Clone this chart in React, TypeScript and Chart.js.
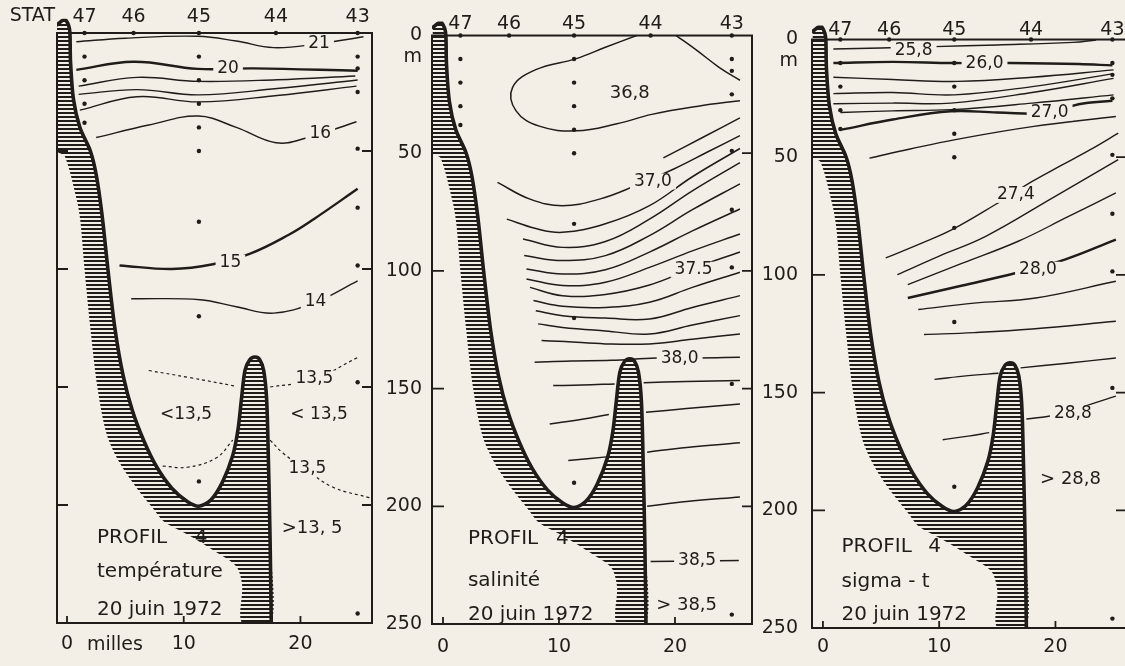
import React, { useEffect, useRef } from 'react';
import { Chart, registerables } from 'chart.js';

Chart.register(...registerables);

type Pt = [number, number];
type Lbl = [string, number, number];
type Note = [string, number, number, number];

const PAPER = '#f3efe6';
const INK = '#1f1c19';
const FONT = '"DejaVu Sans", "Liberation Sans", sans-serif';

// ---------- stations & axes ----------
const stationNames = ['47', '46', '45', '44', '43'];
const stationMiles = [1.5, 5.7, 11.3, 17.9, 24.9];
const stationDepths: number[][] = [
  [0, 10, 20, 30, 38],
  [0],
  [0, 10, 20, 30, 40, 50, 80, 120, 190],
  [0],
  [0, 10, 15, 25, 49, 74, 98.5, 148, 246],
];
const depthTicks = [0, 50, 100, 150, 200, 250];
const distanceTicks = [0, 10, 20];

// ---------- sea bed (miles, m) ----------
const seabedOuter: Pt[] = [
  [-0.3, -5.6], [-0.86, -3.5], [-0.86, 50], [-0.2, 52], [0.85, 71], [1.15, 80], [1.5, 100],
  [2.0, 125], [2.6, 150], [3.4, 170], [4.5, 182], [6.0, 193], [7.3, 201], [8.3, 207],
  [10.5, 213], [12.8, 220], [14.5, 226], [15.0, 234], [15.0, 250],
];
const seabedInner: Pt[] = [
  [17.5, 250], [17.4, 215], [17.25, 180], [17.1, 155], [16.85, 143], [16.5, 138.3], [16.1, 137.3],
  [15.65, 138.5], [15.25, 143], [14.95, 155], [14.65, 168], [14.2, 179], [13.3, 190.5], [12.3, 198],
  [11.3, 200.5], [10.3, 198.5], [9.0, 193], [7.7, 184], [6.6, 173], [5.6, 160], [4.8, 145],
  [4.1, 125], [3.5, 100], [3.0, 77], [2.5, 60], [2.0, 50], [1.1, 40], [0.55, 28], [0.3, 12],
  [0.25, 0], [0.15, -3], [-0.1, -5.4],
];

// ---------- temperature ----------
const t21: Pt[] = [[0.8, 3.7], [5, 2.2], [11.2, 1.4], [14.5, 3.4], [17.7, 6.2], [21.5, 4.6], [25.4, 1.6]];
const t20: Pt[] = [[0.8, 15.6], [5.7, 12.2], [11.2, 15.2], [16, 15], [24.9, 16]];
const t19: Pt[] = [[1, 22.5], [6, 18.8], [11.25, 20.5], [18, 19.8], [24.7, 18.2]];
const t18: Pt[] = [[1, 26], [6, 24], [11.25, 26.2], [18, 23.5], [24.9, 19.9]];
const t17: Pt[] = [[1.1, 32.7], [6, 27], [11.25, 29.2], [18, 26.5], [24.8, 22.5]];
const t16: Pt[] = [[2.5, 44.3], [7, 39], [11.25, 35.2], [14.5, 40], [17.9, 46.5], [20.5, 44.5], [24.8, 37.6]];
const t15: Pt[] = [[4.5, 98.5], [9, 100], [12.5, 98], [15.7, 93.5], [19, 85.5], [21.1, 79], [24.9, 66]];
const t14: Pt[] = [[5.5, 112.6], [11.4, 113], [14.5, 116], [17.7, 118.7], [21.3, 114], [24.9, 105]];
const t135a: Pt[] = [[7, 143], [10.5, 146], [14.3, 149.5]];
const t135b: Pt[] = [[17.4, 150], [21, 147], [24.9, 137.5]];
const t135c: Pt[] = [[8.2, 183.5], [10.3, 184], [12.8, 180], [14.2, 172.5]];
const t135d: Pt[] = [[17.4, 172.5], [18.5, 178], [20.5, 185], [22.8, 192.5], [26, 197]];

// ---------- salinity ----------
const sTop: Pt[] = [[20.1, 0], [21.8, 6], [23.8, 13.5], [25.6, 19]];
const s368: Pt[] = [[16.7, 0], [14, 5], [11.5, 9.8], [8, 14.5], [6, 22], [6.3, 32], [8.3, 38.5], [11.5, 40.5], [15, 37.5], [18, 33.5], [22, 30], [25.6, 27.7]];
const sUp: Pt[] = [[19, 52], [22.5, 43], [25.6, 35]];
const s370: Pt[] = [[4.7, 62.4], [7.5, 69.5], [10.3, 72.3], [13.5, 69.5], [16.5, 64], [19.9, 56.7], [22.8, 49.5], [25.6, 42.5]];
const sA: Pt[] = [[5.5, 78], [8, 82], [10.3, 83.6], [14, 80], [17.8, 72.3], [21.5, 60], [25.6, 48]];
const sB: Pt[] = [[6.9, 86.4], [10.3, 90], [14, 87.5], [17.8, 78], [21.5, 66], [25.6, 54]];
const sC: Pt[] = [[7, 93.5], [10.3, 95.6], [14, 93.5], [17.8, 85], [21.5, 74], [25.6, 63]];
const sD: Pt[] = [[7.2, 99.2], [10.3, 101.3], [14, 99.5], [17.8, 92], [21.5, 83], [25.6, 73.7]];
const sE: Pt[] = [[7.2, 103.4], [10.3, 106.2], [14, 104.8], [17.8, 98.5], [21.5, 91.5], [25.6, 84.3]];
const s375: Pt[] = [[7.5, 107], [10.3, 110.5], [14, 110], [17.8, 106], [21.5, 99], [25.6, 92]];
const sG: Pt[] = [[7.8, 112.6], [10.3, 115], [14, 115.5], [17.8, 113.3], [21.5, 107], [25.6, 100.6]];
const sH: Pt[] = [[8, 116.9], [10.3, 119], [14, 120], [17.8, 120.4], [21.5, 115.5], [25.6, 110.5]];
const sI: Pt[] = [[8.2, 122.5], [10.3, 124], [14, 125.5], [17.8, 126.8], [21.5, 123], [25.6, 119]];
const sJ: Pt[] = [[8.5, 129.6], [10.5, 130], [14, 131], [17.8, 131], [21.5, 129], [25.6, 126.8]];
const s380: Pt[] = [[7.9, 138.8], [11, 138.3], [14.5, 138], [18.4, 137], [22, 137], [25.6, 136.7]];
const sKa: Pt[] = [[9.5, 148.7], [12, 148.5], [14.8, 148]];
const sKb: Pt[] = [[17.3, 147.5], [21, 147], [25.6, 146.6]];
const sLa: Pt[] = [[9.2, 165], [12, 163], [14.3, 161]];
const sLb: Pt[] = [[17.5, 160], [21, 158.5], [25.6, 156.5]];
const sMa: Pt[] = [[10.8, 180.5], [14.1, 179]];
const sMb: Pt[] = [[17.6, 177], [21, 175], [25.6, 173]];
const sN: Pt[] = [[17.6, 200], [21, 198], [25.6, 196]];
const s385: Pt[] = [[17.9, 223.5], [21.9, 223.2], [25.5, 223]];

// ---------- sigma-t ----------
const g258: Pt[] = [[0.9, 4], [5, 3.6], [9.6, 3], [15, 2.3], [21.5, 1.2], [23.5, 0.2]];
const g260: Pt[] = [[0.9, 10], [6, 9.5], [11.2, 10], [16, 10], [22, 10.4], [24.9, 11]];
const gA: Pt[] = [[0.9, 16], [6, 17], [11.6, 17.8], [18, 16], [25, 12.9]];
const gB: Pt[] = [[0.9, 23], [6, 22.5], [11.3, 23.5], [18, 20], [25, 14.5]];
const gC: Pt[] = [[0.9, 27.3], [6, 27], [11, 27], [18, 22.5], [25, 16.5]];
const gD: Pt[] = [[1.5, 31], [6, 30.3], [11, 29.8], [18, 27], [25, 23.5]];
const g270: Pt[] = [[1.6, 38.3], [6, 34], [11, 30.5], [15, 31], [19.4, 31.2], [22, 27.5], [24.9, 26]];
const gE: Pt[] = [[4, 50.4], [7.5, 46.5], [11.4, 42.5], [18, 37], [25.2, 32.7]];
const g274: Pt[] = [[5.4, 92.8], [8.5, 86.5], [11.1, 80.8], [14.8, 70.2], [18, 60.3], [20.5, 53.5], [23, 46.8], [25.4, 39.8]];
const gF: Pt[] = [[6.4, 99.9], [10, 92], [14, 83.6], [19.5, 68], [25.4, 51]];
const gG: Pt[] = [[7.3, 104.1], [12, 95], [16.8, 85.7], [21, 75.5], [25.2, 65.2]];
const g280: Pt[] = [[7.3, 109.8], [12, 104.5], [16.6, 99.2], [20.8, 93.5], [25.2, 85]];
const gH: Pt[] = [[8.2, 114.7], [13, 112], [18.3, 109.8], [25.2, 102.7]];
const gI: Pt[] = [[8.7, 125.3], [13, 124.5], [18, 123], [25.2, 119.7]];
const gJa: Pt[] = [[9.6, 144.4], [12.5, 142.8], [15.1, 141.8]];
const gJb: Pt[] = [[17, 139.5], [21, 137.5], [25.2, 135.3]];
const g288a: Pt[] = [[10.3, 170], [12.5, 168.5], [14.3, 167]];
const g288b: Pt[] = [[17.5, 161.2], [20, 159.5], [23, 155], [25.2, 151.5]];

// ---------- labels (text, miles, m) ----------
const tempLabels: Lbl[] = [['21', 21.6, 4.4], ['20', 13.8, 15], ['16', 21.7, 42.7], ['15', 14, 97.3], ['14', 21.3, 114], ['13,5', 21.2, 146.5], ['13,5', 20.6, 184.6]];
const salLabels: Lbl[] = [['37,0', 18.1, 62], ['37.5', 21.6, 99.5], ['38,0', 20.4, 137.4], ['38,5', 21.9, 223.2]];
const sigLabels: Lbl[] = [['25,8', 7.8, 4.5], ['26,0', 13.9, 10.4], ['27,0', 19.5, 31], ['27,4', 16.6, 66], ['28,0', 18.5, 97.8], ['28,8', 21.5, 158.8]];

const tempNotes: Note[] = [['<13,5', 10.2, 161.5, 17], ['< 13,5', 21.6, 161.5, 17], ['>13, 5', 21, 210, 18], ['4', 11.5, 214, 20]];
const salNotes: Note[] = [['36,8', 16.1, 24.6, 18], ['> 38,5', 21, 242, 18], ['4', 10.3, 214, 20]];
const sigNotes: Note[] = [['> 28,8', 21.3, 187, 18], ['4', 9.6, 215.5, 20]];

const tempTitle: Lbl[] = [['PROFIL', 2.57, 214], ['température', 2.57, 228.5], ['20 juin 1972', 2.57, 244.5]];
const salTitle: Lbl[] = [['PROFIL', 2.15, 214], ['salinité', 2.15, 231.8], ['20 juin 1972', 2.15, 246.2]];
const sigTitle: Lbl[] = [['PROFIL', 1.6, 215.5], ['sigma - t', 1.6, 230.5], ['20 juin 1972', 1.6, 244.5]];

const THIN = 1.4;
const THICK = 2.4;
const DOT = [3, 3];

const panels = [
  {
    canvasLeft: 0, canvasWidth: 380, axisWidth: 57, padRight: 8, y0: 33, y250: 623,
    xMin: -0.857, xMax: 26.13, depthLabels: false, depthPad: 10, distPad: 10, stationOffset: 16, tickIn: 11,
    stat: true, milles: true, unit: false,
    contours: [
      { pts: t21, w: THIN }, { pts: t20, w: THICK }, { pts: t19, w: THIN }, { pts: t18, w: THIN },
      { pts: t17, w: THIN }, { pts: t16, w: THIN }, { pts: t15, w: THICK }, { pts: t14, w: THIN },
      { pts: t135a, w: 1.2, dash: DOT }, { pts: t135b, w: 1.2, dash: DOT },
      { pts: t135c, w: 1.2, dash: DOT }, { pts: t135d, w: 1.2, dash: DOT },
    ],
    labels: tempLabels, notes: tempNotes, title: tempTitle,
  },
  {
    canvasLeft: 380, canvasWidth: 380, axisWidth: 52, padRight: 8, y0: 33, y250: 624,
    xMin: -0.948, xMax: 26.64, depthLabels: true, depthPad: 10, distPad: 12, stationOffset: 11, tickIn: 12,
    stat: false, milles: false, unit: true,
    contours: [sTop, s368, sUp, s370, sA, sB, sC, sD, sE, s375, sG, sH, sI, sJ, s380, sKa, sKb, sLa, sLb, sMa, sMb, sN, s385].map((pts) => ({ pts, w: 1.5 })),
    labels: salLabels, notes: salNotes, title: salTitle,
  },
  {
    canvasLeft: 760, canvasWidth: 370, axisWidth: 52, padRight: 2, y0: 33, y250: 628,
    xMin: -0.94, xMax: 26.07, depthLabels: true, depthPad: 14, distPad: 8, stationOffset: 9, tickIn: 13,
    stat: false, milles: false, unit: true,
    contours: [
      { pts: g258, w: THIN }, { pts: g260, w: THICK }, { pts: gA, w: THIN }, { pts: gB, w: THIN },
      { pts: gC, w: THIN }, { pts: gD, w: THIN }, { pts: g270, w: THICK }, { pts: gE, w: THIN },
      { pts: g274, w: THIN }, { pts: gF, w: THIN }, { pts: gG, w: THIN }, { pts: g280, w: THICK },
      { pts: gH, w: THIN }, { pts: gI, w: THIN }, { pts: gJa, w: THIN }, { pts: gJb, w: THIN },
      { pts: g288a, w: THIN }, { pts: g288b, w: THIN },
    ],
    labels: sigLabels, notes: sigNotes, title: sigTitle,
  },
];

const toXY = (pts: Pt[]) => pts.map(([x, y]) => ({ x, y }));

function buildConfig(p: any, ctx: CanvasRenderingContext2D): any {
  const pxPerM = (p.y250 - p.y0) / 250;
  const topPad = p.y0 - 6 * pxPerM;

  const hatchCanvas = document.createElement('canvas');
  hatchCanvas.width = 8;
  hatchCanvas.height = 4;
  const hc = hatchCanvas.getContext('2d')!;
  hc.fillStyle = INK;
  hc.fillRect(0, 0, 8, 2);
  const hatch = ctx.createPattern(hatchCanvas, 'repeat');

  const dots: { x: number; y: number }[] = [];
  stationMiles.forEach((x, i) => stationDepths[i].forEach((d) => dots.push({ x, y: d })));

  const outline = [...seabedInner, seabedOuter[0], seabedOuter[1]];

  const datasets: any[] = [
    { data: dots, order: 0, showLine: false, pointRadius: 2.2, pointBackgroundColor: INK, pointBorderWidth: 0 },
    { data: toXY(outline), order: 1, showLine: true, borderColor: INK, borderWidth: 3.6, pointRadius: 0, tension: 0.3, fill: false, borderJoinStyle: 'round', borderCapStyle: 'round' },
    { data: toXY([...seabedOuter, ...seabedInner]), order: 2, showLine: true, borderColor: 'rgba(0,0,0,0)', borderWidth: 1, backgroundColor: hatch, fill: 'shape', pointRadius: 0, tension: 0.3 },
    ...p.contours.map((c: any) => ({
      data: toXY(c.pts), order: 3, showLine: true, borderColor: INK, borderWidth: c.w,
      borderDash: c.dash || [], pointRadius: 0, tension: 0.4, fill: false,
    })),
  ];

  const decor = {
    id: 'decor',
    beforeDatasetsDraw(chart: any) {
      const c = chart.ctx;
      const xs = chart.scales.x;
      const ys = chart.scales.y;
      const { left, right } = chart.chartArea;
      const top = ys.getPixelForValue(0);
      const bottom = ys.getPixelForValue(250);
      c.save();
      c.strokeStyle = INK;
      c.lineWidth = 2;
      c.strokeRect(left, top, right - left, bottom - top);
      c.lineWidth = 1.8;
      c.beginPath();
      for (const t of ys.ticks) {
        if (t.value <= 0 || t.value >= 250) continue;
        const y = ys.getPixelForValue(t.value);
        c.moveTo(left, y); c.lineTo(left + p.tickIn, y);
        c.moveTo(right, y); c.lineTo(right - 10, y);
      }
      for (const t of xs.ticks) {
        const x = xs.getPixelForValue(t.value);
        c.moveTo(x, bottom); c.lineTo(x, bottom - 7);
      }
      c.stroke();
      c.restore();
    },
    afterDatasetsDraw(chart: any) {
      const c = chart.ctx;
      const xs = chart.scales.x;
      const ys = chart.scales.y;
      const { left } = chart.chartArea;
      const top = ys.getPixelForValue(0);
      const bottom = ys.getPixelForValue(250);
      c.save();
      c.fillStyle = INK;
      c.textBaseline = 'middle';
      // contour labels, breaking the line
      c.font = `17px ${FONT}`;
      c.textAlign = 'center';
      for (const [t, x, y] of p.labels as Lbl[]) {
        const px = xs.getPixelForValue(x);
        const py = ys.getPixelForValue(y);
        const w = c.measureText(t).width;
        c.fillStyle = PAPER;
        c.fillRect(px - w / 2 - 4, py - 8, w + 8, 16);
        c.fillStyle = INK;
        c.fillText(t, px, py);
      }
      for (const [t, x, y, s] of p.notes as Note[]) {
        c.font = `${s}px ${FONT}`;
        c.fillText(t, xs.getPixelForValue(x), ys.getPixelForValue(y));
      }
      c.font = `20px ${FONT}`;
      c.textAlign = 'left';
      for (const [t, x, y] of p.title as Lbl[]) {
        c.fillText(t, xs.getPixelForValue(x), ys.getPixelForValue(y));
      }
      // stations
      c.font = `19px ${FONT}`;
      c.textAlign = 'center';
      stationNames.forEach((n, i) => c.fillText(n, xs.getPixelForValue(stationMiles[i]), top - p.stationOffset));
      if (p.stat) {
        c.textAlign = 'right';
        c.fillText('STAT', left - 2, top - 17);
      }
      if (p.unit) {
        c.textAlign = 'right';
        c.fillText('m', left - p.depthPad, top + 22);
      }
      if (p.milles) {
        c.textAlign = 'left';
        c.fillText('milles', xs.getPixelForValue(0) + 20, bottom + p.distPad + 12);
      }
      c.restore();
    },
  };

  return {
    type: 'line',
    data: { datasets },
    options: {
      responsive: false,
      animation: false,
      devicePixelRatio: 1,
      events: [],
      layout: { padding: { top: topPad, right: p.padRight, left: 0, bottom: 0 } },
      elements: { line: { capBezierPoints: false } },
      plugins: { legend: { display: false }, tooltip: { enabled: false }, title: { display: false } },
      scales: {
        x: {
          type: 'linear', min: p.xMin, max: p.xMax,
          grid: { display: false, drawTicks: false }, border: { display: false },
          afterBuildTicks: (s: any) => { s.ticks = distanceTicks.map((v) => ({ value: v })); },
          afterFit: (s: any) => { s.height = 666 - p.y250; },
          ticks: { autoSkip: false, maxRotation: 0, padding: p.distPad, color: INK, font: { family: FONT, size: 19 }, callback: (v: any) => String(v) },
        },
        y: {
          type: 'linear', reverse: true, min: -6, max: 250,
          grid: { display: false, drawTicks: false }, border: { display: false },
          afterBuildTicks: (s: any) => { s.ticks = depthTicks.map((v) => ({ value: v })); },
          afterFit: (s: any) => { s.width = p.axisWidth; },
          ticks: { display: p.depthLabels, padding: p.depthPad, color: INK, font: { family: FONT, size: 19 }, callback: (v: any) => String(v) },
        },
      },
    },
    plugins: [decor],
  };
}

function Panel({ def }: { def: any }) {
  const ref = useRef<HTMLCanvasElement>(null);
  useEffect(() => {
    const canvas = ref.current!;
    const ctx = canvas.getContext('2d')!;
    const chart = new Chart(canvas, buildConfig(def, ctx));
    return () => chart.destroy();
  }, [def]);
  return (
    <canvas
      ref={ref}
      width={def.canvasWidth}
      height={666}
      style={{ position: 'absolute', left: def.canvasLeft, top: 0, width: def.canvasWidth, height: 666 }}
    />
  );
}

export default function App() {
  return (
    <div style={{ position: 'fixed', left: 0, top: 0, width: 1125, height: 666, overflow: 'hidden', background: PAPER }}>
      {panels.map((p, i) => (
        <Panel key={i} def={p} />
      ))}
    </div>
  );
}
